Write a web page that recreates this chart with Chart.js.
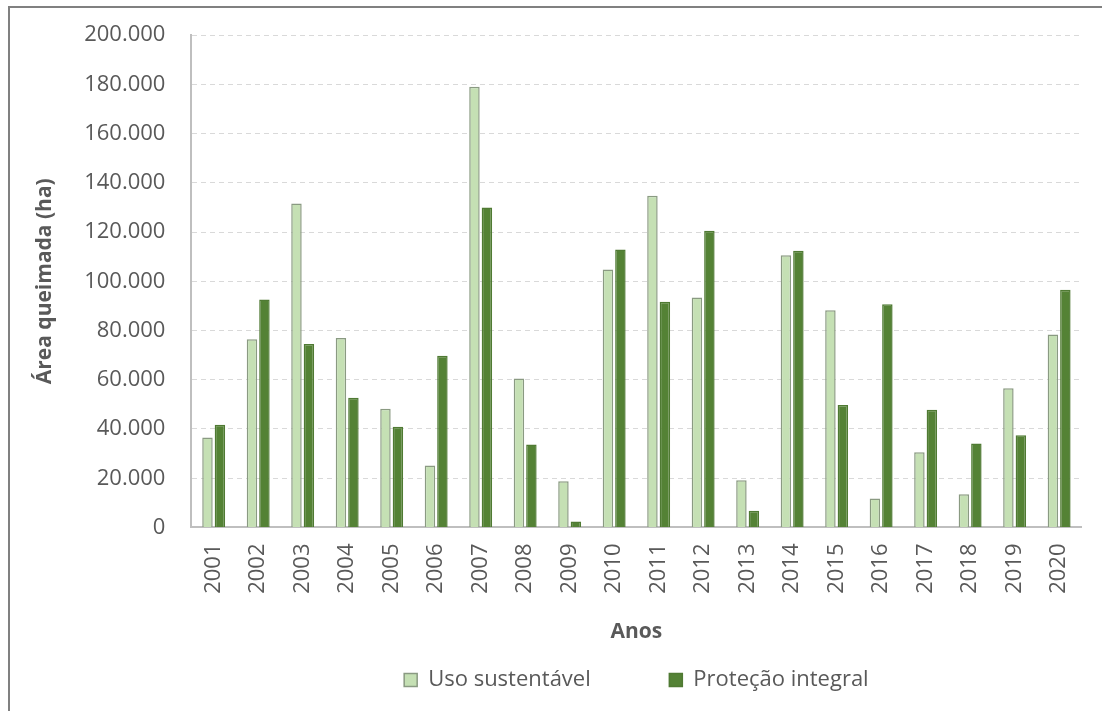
<!DOCTYPE html>
<html>
<head>
<meta charset="utf-8">
<script src="https://cdn.jsdelivr.net/npm/chart.js@4.4.1/dist/chart.umd.min.js"></script>
<style>
  html, body { margin: 0; padding: 0; background: #fff; }
  #wrap { position: relative; width: 1102px; height: 711px; }
  #frame {
    position: absolute; left: 8px; top: 6px; right: 0; bottom: 0;
    border-top: 2px solid #808080; border-left: 2px solid #808080;
    pointer-events: none;
  }
</style>
</head>
<body>
<div id="wrap">
  <canvas id="burnChart" width="1102" height="711"></canvas>
  <div id="frame"></div>
</div>
<script>
const years = ['2001', '2002', '2003', '2004', '2005', '2006', '2007', '2008', '2009', '2010',
               '2011', '2012', '2013', '2014', '2015', '2016', '2017', '2018', '2019', '2020'];

// Uso sustentável (ha)
const usoSustentavel = [36500, 76400, 131600, 77000, 48200, 25200, 179000, 60500, 18800, 104800,
                        134700, 93400, 19200, 110600, 88200, 11800, 30600, 13500, 56500, 78400];

// Proteção integral (ha)
const protecaoIntegral = [41700, 92600, 74500, 52700, 40900, 69700, 130000, 33700, 2400, 112900,
                          91700, 120500, 6800, 112400, 49700, 90700, 47800, 34100, 37500, 96500];

const textColor = '#595959';
const fontFamily = '"Open Sans", "Noto Sans", sans-serif';

// 200000 -> "200.000"
function formatThousands(v) {
    return String(v).replace(/\B(?=(\d{3})+(?!\d))/g, '.');
}

const ctx = document.getElementById('burnChart').getContext('2d');

new Chart(ctx, {
    type: 'bar',
    data: {
        labels: years,
        datasets: [
            {
                label: 'Uso sustentável',
                data: usoSustentavel,
                backgroundColor: '#c5e0b4',
                borderColor: '#8a9a82',
                borderWidth: 1.5
            },
            {
                label: 'Proteção integral',
                data: protecaoIntegral,
                backgroundColor: '#548235',
                borderColor: '#4f7a33',
                borderWidth: 1.5
            }
        ]
    },
    options: {
        responsive: false,
        animation: false,
        devicePixelRatio: 1,
        categoryPercentage: 0.56,
        barPercentage: 0.84,
        layout: {
            padding: { left: 32, right: 19, top: 30, bottom: 10 }
        },
        scales: {
            x: {
                grid: { display: false, drawTicks: false },
                border: { display: true, color: '#bfbfbf', width: 2 },
                ticks: {
                    color: textColor,
                    font: { family: fontFamily, size: 22 },
                    minRotation: 90,
                    maxRotation: 90,
                    padding: 16
                },
                title: {
                    display: true,
                    text: 'Anos',
                    color: textColor,
                    font: { family: fontFamily, size: 21, weight: 'bold' },
                    padding: { top: 10, bottom: 14 }
                }
            },
            y: {
                min: 0,
                max: 200000,
                ticks: {
                    stepSize: 20000,
                    color: textColor,
                    // small lineHeight keeps the top label from pushing the plot down
                    font: { family: fontFamily, size: 22, lineHeight: 0.82 },
                    padding: 26,
                    callback: (value) => formatThousands(value)
                },
                grid: {
                    color: '#d9d9d9',
                    lineWidth: 1,
                    drawTicks: false
                },
                border: { display: true, color: '#bfbfbf', width: 2, dash: [5, 4] },
                title: {
                    display: true,
                    text: 'Área queimada (ha)',
                    color: textColor,
                    font: { family: fontFamily, size: 21, weight: 'bold' },
                    padding: { top: 0, bottom: 1 }
                }
            }
        },
        plugins: {
            legend: {
                position: 'bottom',
                fullSize: false,
                labels: {
                    color: textColor,
                    font: { family: fontFamily, size: 22 },
                    boxWidth: 13,
                    boxHeight: 13,
                    padding: 10,
                    // wider gap after the first entry, like the original legend
                    generateLabels: (chart) => {
                        const items = Chart.defaults.plugins.legend.labels.generateLabels(chart);
                        items[0].text = items[0].text + '\u00a0'.repeat(12);
                        return items;
                    }
                }
            },
            tooltip: { enabled: false }
        }
    }
});
</script>
</body>
</html>
